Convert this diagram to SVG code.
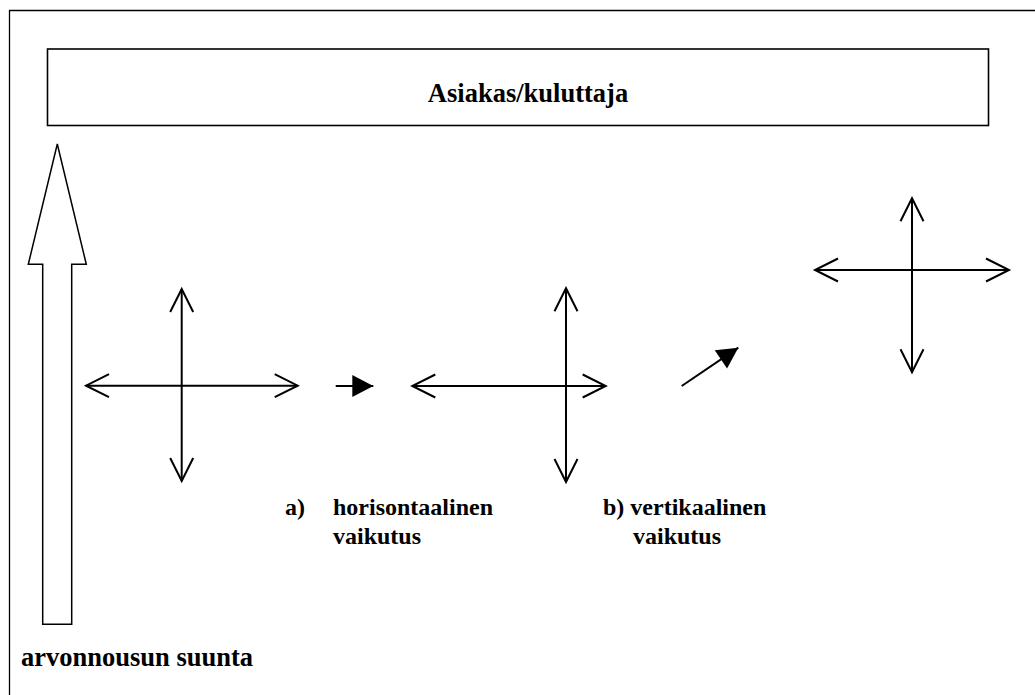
<svg xmlns="http://www.w3.org/2000/svg" width="1035" height="695" viewBox="0 0 1035 695">
<style>
.t{font-family:"Liberation Serif","Times New Roman",serif;font-weight:bold;fill:#000}
.big{font-size:26.5px}
.lbl{font-size:24px}
.ln{stroke:#000;stroke-width:2;fill:none}
</style>
<defs>
<marker id="open" markerUnits="userSpaceOnUse" markerWidth="30" markerHeight="30" viewBox="-25 -15 30 30" refX="0" refY="0" orient="auto-start-reverse" overflow="visible"><path d="M-23,-11.5 L0,0 L-23,11.5" fill="none" stroke="#000" stroke-width="2"/></marker>
<marker id="solid" markerUnits="userSpaceOnUse" markerWidth="30" markerHeight="30" viewBox="-25 -15 30 30" refX="0" refY="0" orient="auto" overflow="visible"><path d="M-21,-11 L0,0 L-21,11 Z" fill="#000"/></marker>
</defs>
<rect width="1035" height="695" fill="#fff"/>
<path id="frame" d="M1035,10.5 H9.5 V695" fill="none" stroke="#000" stroke-width="1.3"/>
<g id="customer">
<rect x="47.5" y="49" width="941" height="76.5" fill="#fff" stroke="#000" stroke-width="1.6"/>
<text class="t big" x="528" y="101.7" text-anchor="middle">Asiakas/kuluttaja</text>
</g>
<g id="value-direction">
<path d="M57.3,144 L86.3,264.3 H71.7 V624.3 H42.7 V264.3 H28.3 Z" fill="#fff" stroke="#000" stroke-width="1.5" stroke-linejoin="miter"/>
<text class="t big" x="21" y="665.7">arvonnousun suunta</text>
</g>
<g id="label-a">
<text class="t lbl" x="285" y="515">a)</text>
<text class="t lbl" x="333" y="515">horisontaalinen</text>
<text class="t lbl" x="333" y="544">vaikutus</text>
</g>
<g id="label-b">
<text class="t lbl" x="603" y="515">b) vertikaalinen</text>
<text class="t lbl" x="633" y="544">vaikutus</text>
</g>
<g id="connectors">
<line class="ln" x1="181.7" y1="289" x2="181.7" y2="481" marker-start="url(#open)" marker-end="url(#open)"/>
<line class="ln" x1="86" y1="385.7" x2="297.7" y2="385.7" marker-start="url(#open)" marker-end="url(#open)"/>
<line class="ln" x1="335.7" y1="386" x2="373.3" y2="386" marker-end="url(#solid)"/>
<line class="ln" x1="566" y1="288.3" x2="566" y2="482" marker-start="url(#open)" marker-end="url(#open)"/>
<line class="ln" x1="412.3" y1="386" x2="605.7" y2="386" marker-start="url(#open)" marker-end="url(#open)"/>
<line class="ln" x1="681.7" y1="386" x2="738.3" y2="347.7" marker-end="url(#solid)"/>
<line class="ln" x1="912" y1="198.3" x2="912" y2="372.3" marker-start="url(#open)" marker-end="url(#open)"/>
<line class="ln" x1="815" y1="270" x2="1009" y2="270" marker-start="url(#open)" marker-end="url(#open)"/>
</g>
</svg>
